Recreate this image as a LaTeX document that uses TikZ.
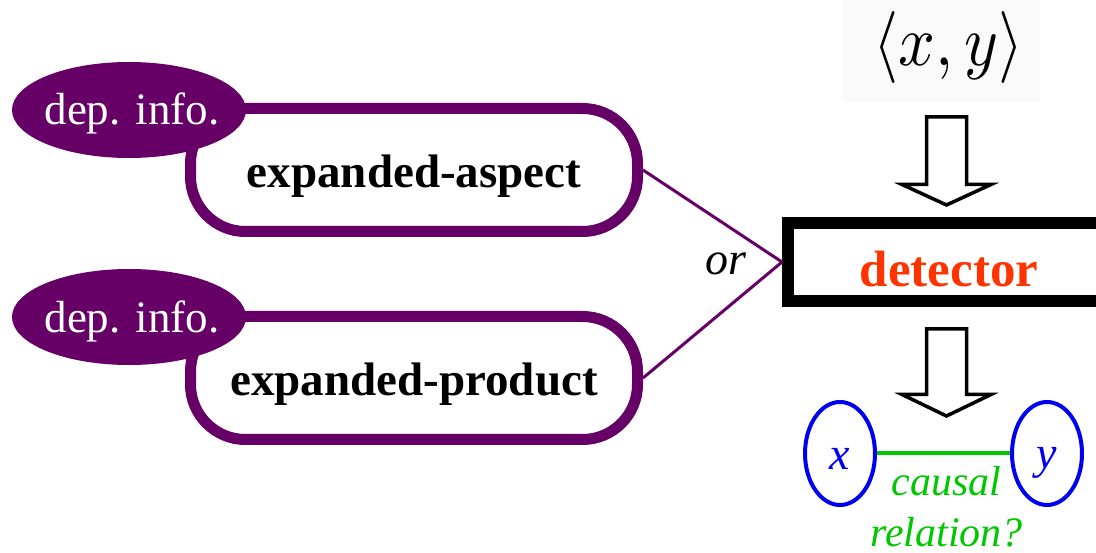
\RequirePackage{fix-cm}
\documentclass[tikz,border=0pt]{standalone}
\usepackage{fontspec}
\setmainfont{Liberation Serif}
\definecolor{plum}{HTML}{660066}
\definecolor{detred}{HTML}{FF3300}
\definecolor{varblue}{HTML}{0000F0}
\definecolor{relgreen}{HTML}{00C800}
\tikzset{
  pbox/.style={draw=plum, line width=11pt, fill=white, rounded corners=55pt,
    minimum width=447pt, minimum height=123pt, inner sep=0pt},
  depinfo/.style={ellipse, fill=plum, minimum width=234pt, minimum height=96pt, inner sep=0pt},
  deptext/.style={text=white, font=\fontsize{45}{50}\selectfont, inner sep=0pt, anchor=base},
  btext/.style={font=\fontsize{47}{54}\selectfont\bfseries, inner sep=0pt, anchor=base},
  detbox/.style={draw=black, line width=12pt, minimum width=320pt, minimum height=78pt, inner sep=0pt},
  conn/.style={draw=plum, line width=3pt},
  blockarrow/.style={draw=black, line width=3.5pt, fill=white, line join=miter},
  varnode/.style={ellipse, draw=varblue, line width=4pt, minimum width=70pt, minimum height=103pt, inner sep=0pt},
  vartext/.style={text=varblue, font=\fontsize{46}{50}\selectfont\itshape, inner sep=0pt, anchor=base},
  rel/.style={draw=relgreen, line width=4pt},
}
\usetikzlibrary{shapes.geometric}
\begin{document}
\begin{tikzpicture}[x=1pt, y=-1pt]
  \path[use as bounding box] (0,0) rectangle (1096,553);
  \clip (0,0) rectangle (1096,553);

  % the pair fed to the detector
  \fill[black!2] (843,0) rectangle (1040,102);
  \node[inner sep=0pt, anchor=base, font=\normalsize] (pair) at (948.5,66)
    {\scalebox{6.45}[7.2]{$\langle x,y\rangle$}};

  % two alternative inputs, each tagged with dependency information
  \node[pbox] (asp) at (414,170) {};
  \node[btext] (aspt) at (414,188) {expanded-aspect};
  \node[depinfo] (d1) at (129,110) {};
  \node[deptext] (d1t) at (132,125) {dep. info.};

  \node[pbox] (prd) at (414,378) {};
  \node[btext] (prdt) at (414,396) {expanded-product};
  \node[depinfo] (d2) at (129,317) {};
  \node[deptext] (d2t) at (132,333) {dep. info.};

  % detector
  \node[detbox] (det) at (948,262) {};
  \node[inner sep=0pt, anchor=base, text=detred, font=\fontsize{51}{56}\selectfont\bfseries] (dett) at (949,287) {detector};

  \draw[conn] (asp.east) -- (det.west);
  \draw[conn] (prd.east) -- (det.west);
  \node[inner sep=0pt, anchor=base, font=\fontsize{46}{50}\selectfont\itshape] (or) at (726,275) {or};

  % block arrows
  \draw[blockarrow] (926.5,117) -- (966.5,117) -- (966.5,184.5) -- (991,184.5)
    -- (946.5,205) -- (902,184.5) -- (926.5,184.5) -- cycle;
  \draw[blockarrow] (926.5,329) -- (966.5,329) -- (966.5,394.5) -- (991,394.5)
    -- (946.5,416) -- (902,394.5) -- (926.5,394.5) -- cycle;

  % output: causal relation between x and y
  \node[varnode] (x) at (840,453.5) {};
  \node[varnode] (y) at (1047,453.5) {};
  \node[vartext] (xt) at (840,470) {x};
  \node[vartext] (yt) at (1047,468) {y};
  \draw[rel] (x.east) -- (y.west);
  \node[inner sep=0pt, anchor=base, align=center, text=relgreen,
    font=\fontsize{42}{51}\selectfont\itshape] (rel) at (946.7,546) {causal\\relation?};
\end{tikzpicture}
\end{document}
